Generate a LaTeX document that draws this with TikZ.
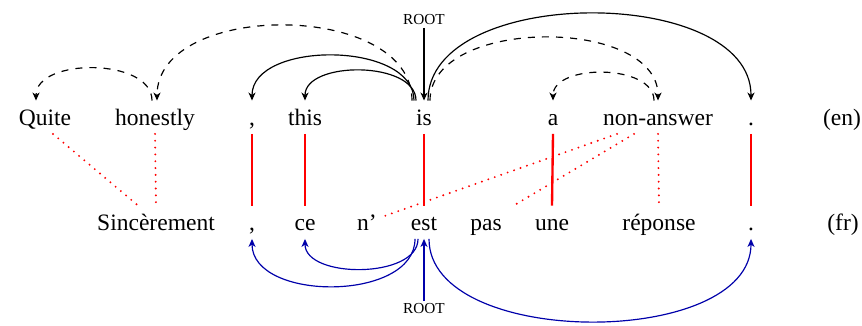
\documentclass[tikz,border=0pt]{standalone}
\usepackage{fontspec}
\setmainfont{Liberation Serif}
\usetikzlibrary{arrows.meta,calc}
\definecolor{alnred}{RGB}{255,0,0}
\definecolor{depblue}{RGB}{0,0,170}

\begin{document}
\begin{tikzpicture}[x=0.425pt,y=-0.425pt,
  word/.style={anchor=base,font=\rmfamily\fontsize{10}{12}\selectfont,text height=8.2pt,text depth=1.6pt,
    inner ysep=2pt,inner xsep=1pt},
  rootlbl/.style={font=\rmfamily\fontsize{6.5}{8}\selectfont,inner sep=1pt},
  deparc/.style={-{Stealth[length=3.4pt,width=3pt,inset=1pt]},line width=0.5pt},
  deparcfr/.style={deparc,depblue},
  aln/.style={alnred,line width=1pt},
  alndot/.style={alnred,line width=0.9pt,dash pattern=on 0pt off 2.9pt,line cap=round}
]
  \useasboundingbox (0,0) rectangle (862,325);

  % English sentence
  \node[word] (quite) at (45,125) {Quite};
  \node[word] (honestly) at (155,125) {honestly};
  \node[word] (comma) at (252,125) {,};
  \node[word] (this) at (305,125) {this};
  \node[word] (is) at (424,125) {is};
  \node[word] (a) at (553,125) {a};
  \node[word] (nonanswer) at (658,125) {non-answer};
  \node[word] (period) at (751,125) {.};
  \node[word] (en) at (842,125) {(en)};

  % French sentence
  \node[word] (sinc) at (156,230) {Sincèrement};
  \node[word] (fcomma) at (252,230) {,};
  \node[word] (ce) at (305,230) {ce};
  \node[word] (nt) at (367,230) {n’};
  \node[word] (est) at (424,230) {est};
  \node[word] (pas) at (486,230) {pas};
  \node[word] (une) at (552,230) {une};
  \node[word] (reponse) at (659,230) {réponse};
  \node[word] (fperiod) at (751,230) {.};
  \node[word] (fr) at (843,230) {(fr)};

  \node[rootlbl] (rooten) at (424,20) {ROOT};
  \node[rootlbl] (rootfr) at (424,309) {ROOT};

  % arc ends
  \coordinate (is-1) at ($(is.north)+(-12,0)$);
  \coordinate (is-2) at ($(is.north)+(-10,0)$);
  \coordinate (is-3) at ($(is.north)+(-8,0)$);
  \coordinate (is-4) at ($(is.north)+(4,0)$);
  \coordinate (is-5) at ($(is.north)+(6,0)$);
  \coordinate (hon-in) at ($(honestly.north)+(2,0)$);
  \coordinate (hon-out) at ($(honestly.north)+(-3,0)$);
  \coordinate (quite-in) at ($(quite.north)+(-9,0)$);
  \coordinate (na-out) at ($(nonanswer.north)+(-4,0)$);
  \coordinate (est-1) at ($(est.south)+(-9,0)$);
  \coordinate (est-2) at ($(est.south)+(-6,0)$);
  \coordinate (est-3) at ($(est.south)+(5,0)$);

  % alignment links
  \draw[aln] (comma.south) -- (fcomma.north);
  \draw[aln] (this.south) -- (ce.north);
  \draw[aln] (is.south) -- (est.north);
  \draw[aln] (a.south) -- (une.north);
  \draw[aln] (period.south) -- (fperiod.north);
  \draw[alndot] ($(quite.south)+(8,0)$) -- ($(sinc.north)+(-18,0)$);
  \draw[alndot] (honestly.south) -- (sinc.north);
  \draw[alndot] ($(nonanswer.south)+(-41,0)$) -- ($(nt.north)+(16,11)$);
  \draw[alndot] ($(nonanswer.south)+(-24,0)$) -- ($(pas.north)+(26,1)$);
  \draw[alndot] (nonanswer.south) -- (reponse.north);

  % dependencies (en)
  \draw[deparc] (rooten) -- (is.north);
  \draw[deparc,dashed] (is-1) .. controls +(0,-100) and +(0,-100) .. (hon-in);
  \draw[deparc] (is-2) .. controls +(0,-60) and +(0,-60) .. (comma.north);
  \draw[deparc] (is-3) .. controls +(0,-40) and +(0,-40) .. (this.north);
  \draw[deparc,dashed] (hon-out) .. controls +(0,-43) and +(0,-43) .. (quite-in);
  \draw[deparc] (is-4) .. controls +(0,-116) and +(0,-116) .. (period.north);
  \draw[deparc,dashed] (is-5) .. controls +(0,-84) and +(0,-84) .. (nonanswer.north);
  \draw[deparc,dashed] (na-out) .. controls +(0,-37) and +(0,-37) .. (a.north);

  % dependencies (fr)
  \draw[deparcfr] (rootfr) -- (est.south);
  \draw[deparcfr] (est-1) .. controls +(0,63) and +(0,63) .. (fcomma.south);
  \draw[deparcfr] (est-2) .. controls +(0,40) and +(0,40) .. (ce.south);
  \draw[deparcfr] (est-3) .. controls +(0,110) and +(0,110) .. (fperiod.south);
\end{tikzpicture}
\end{document}
